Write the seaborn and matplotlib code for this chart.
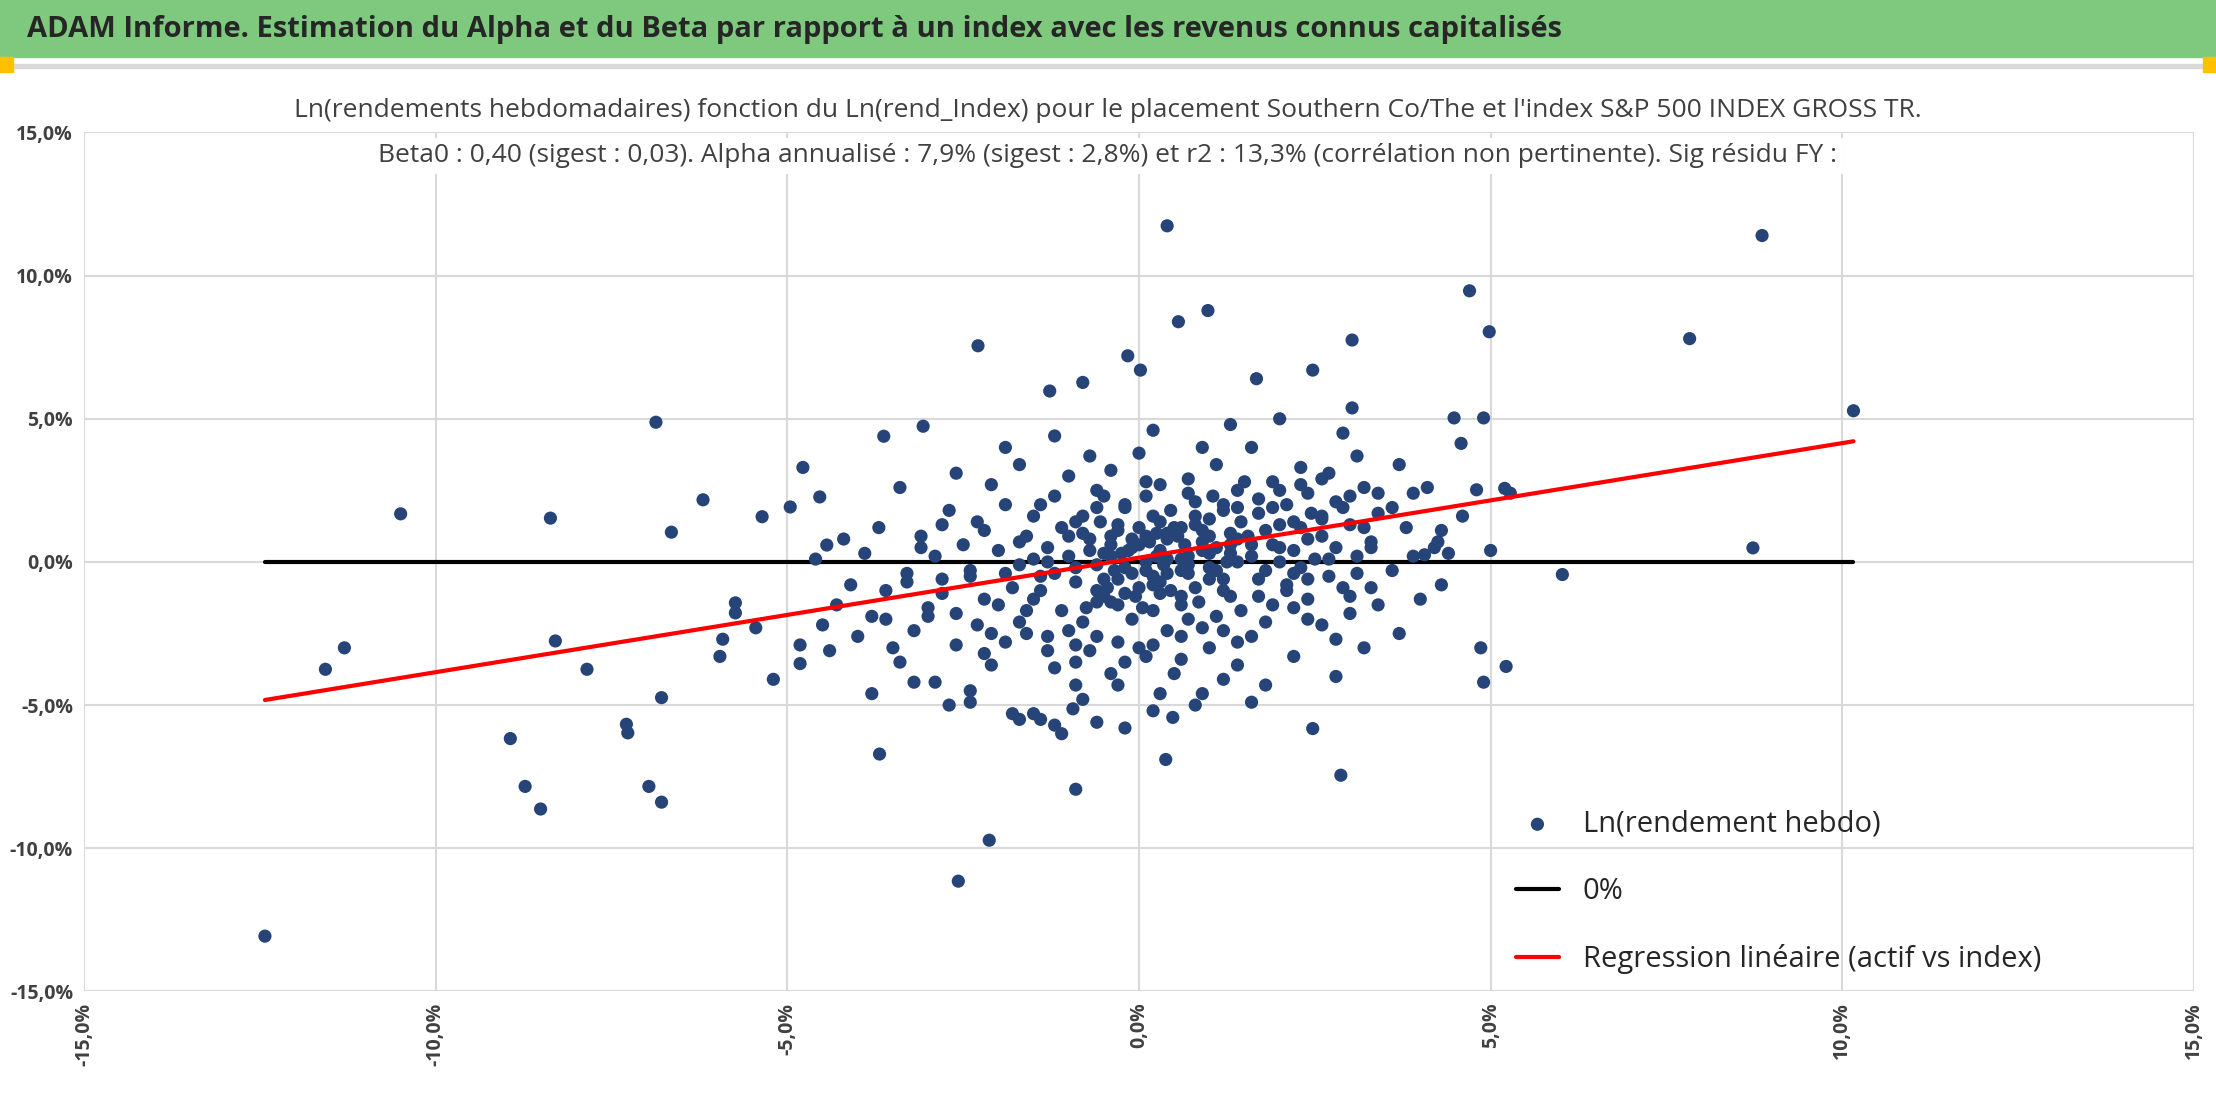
import matplotlib
matplotlib.use("Agg")
import matplotlib.pyplot as plt
import seaborn as sns
import numpy as np
import pandas as pd
from matplotlib.ticker import FuncFormatter, MultipleLocator

title = "ADAM Informe. Estimation du Alpha et du Beta par rapport à un index avec les revenus connus capitalisés"
subtitle1 = "Ln(rendements hebdomadaires) fonction du Ln(rend_Index) pour le placement Southern Co/The et l'index S&P 500 INDEX GROSS TR."
subtitle2 = "Beta0 : 0,40 (sigest : 0,03). Alpha annualisé : 7,9% (sigest : 2,8%) et r2 : 13,3% (corrélation non pertinente). Sig résidu FY :"
legend_labels = ["Ln(rendement hebdo)", "0%", "Regression linéaire (actif vs index)"]

# outliers (x = index %, y = asset %)
outliers = """-12.43,-13.07 -11.57,-3.75 -11.3,-3.0 -10.5,1.68 -8.37,1.53 -8.94,-6.17 -8.73,-7.84 -8.51,-8.63
-8.3,-2.76 -7.85,-3.75 -7.29,-5.67 -7.27,-5.97 -6.97,-7.84 -6.79,-8.39 -6.79,-4.74 -6.87,4.88 -6.65,1.04
-6.2,2.17 -5.96,-3.3 -5.92,-2.7 -5.74,-1.43 -5.74,-1.78 -5.45,-2.3 -5.2,-4.1 -5.36,1.58 -4.96,1.92 -4.78,3.3
-4.82,-3.55 -4.82,-2.9 -4.54,2.27 -4.44,0.59 -3.63,4.39 -3.07,4.74 -3.69,-6.71 -2.29,7.55 -2.57,-11.15
-2.13,-9.72 -0.9,-7.94 0.4,11.74 -0.16,7.2 0.02,6.7 0.56,8.39 0.98,8.78 -0.8,6.27 -1.27,5.97 0.38,-6.9
1.67,6.4 4.7,9.47 4.98,8.04 4.9,5.03 3.03,7.75 3.03,5.38 2.47,6.7 7.83,7.8 8.86,11.4 8.73,0.49 10.16,5.28
6.02,-0.44 4.86,-3.0 4.9,-4.2 5.22,-3.65 5.2,2.57 5.28,2.4 5.0,0.4 4.8,2.52 4.58,4.14 4.48,5.03 2.87,-7.45
2.47,-5.82 3.9,2.4 4.06,0.25 4.25,0.7 0.48,-5.43 -0.94,-5.13 4.3,1.1 4.4,0.3 4.6,1.6 -1.7,-5.5 -1.5,-5.3
-1.2,-5.7 -0.6,-5.6 0.2,-5.2 0.9,-4.6 1.6,-4.9 -2.4,-4.9 -3.2,-4.2"""

cloud = """-4.5,-2.2 -4.3,-1.5 -4.1,-0.8 -3.9,0.3 -3.7,1.2 -4.4,-3.1 -3.8,-4.6 -3.6,-1.0 -4.2,0.8 -4.0,-2.6 -3.8,-1.9 -4.6,0.1
-3.4,-3.5 -3.2,-2.4 -3.0,-1.6 -2.8,-1.1 -3.3,-0.4 -2.9,0.2 -3.1,0.9 -2.7,1.8 -3.4,2.6 -2.6,3.1 -2.9,-4.2 -2.6,-2.9
-3.3,-0.7 -2.8,1.3 -3.0,-1.9 -2.7,-5.0 -3.5,-3.0 -3.1,0.5
-2.4,-4.5 -2.1,-3.6 -1.9,-2.8 -2.3,-2.2 -1.6,-1.7 -2.2,-1.3 -1.8,-0.9 -2.4,-0.5 -1.7,-0.1 -2.0,0.4 -1.6,0.9 -2.3,1.4
-1.9,2.0 -2.1,2.7 -1.7,3.4 -1.8,-5.3 -2.0,-1.5 -1.5,0.1 -2.2,1.1 -1.6,-2.5 -2.4,-0.3 -1.9,4.0 -2.2,-3.2 -1.7,0.7
-1.4,-5.5 -0.9,-4.3 -1.2,-3.7 -0.7,-3.1 -1.3,-2.6 -0.8,-2.1 -1.1,-1.7 -0.6,-1.4 -1.4,-1.0 -0.9,-0.7 -1.2,-0.4
-0.6,-0.1 -1.0,0.2 -1.3,0.5 -0.7,0.8 -1.1,1.2 -0.8,1.6 -1.4,2.0 -0.6,2.5 -1.0,3.0 -0.7,3.7 -1.2,4.4 -0.9,-2.9
-0.5,-1.2 -1.3,0.0 -1.0,0.9 -0.6,1.9 -1.1,-6.0 -0.8,-4.8 -1.4,-0.5 -0.5,0.3 -1.2,2.3
-0.2,-5.8 0.3,-4.6 -0.4,-3.9 0.1,-3.3 -0.3,-2.8 0.4,-2.4 -0.1,-2.0 0.2,-1.7 -0.4,-1.4 0.3,-1.1 0.0,-0.9 -0.3,-0.6
0.4,-0.4 -0.2,-0.2 0.1,0.0 -0.4,0.2 0.3,0.4 0.0,0.6 -0.1,0.8 0.4,1.0 -0.3,1.3 0.2,1.6 -0.2,1.9 0.1,2.3 0.3,2.7
-0.4,3.2 0.0,3.8 0.2,4.6 -0.3,-1.5 0.2,-0.8 0.1,-0.3 0.4,0.1 -0.1,0.5 -0.4,0.9 0.3,1.4 -0.2,2.0 0.0,-3.0 0.35,-0.1
-0.25,0.3 0.15,0.7 -0.45,-0.9 0.45,1.8 -0.05,-1.2 0.25,0.2
0.8,-5.0 1.2,-4.1 0.6,-3.4 1.4,-2.8 0.9,-2.3 1.1,-1.9 0.6,-1.5 1.3,-1.2 0.8,-0.9 1.0,-0.6 0.6,-0.3 1.4,0.0 0.7,0.2
1.1,0.5 0.9,0.7 1.3,1.0 0.6,1.2 1.0,1.5 1.2,1.8 0.8,2.1 1.4,2.5 0.7,2.9 1.1,3.4 0.9,4.0 1.3,4.8 1.2,-1.0 0.7,-0.4
1.0,0.3 1.4,0.8 0.8,1.3 1.2,2.0 0.6,0.1 1.3,0.6 0.9,1.1 0.7,-2.0 1.0,-0.2 0.55,0.9 1.45,1.4
1.8,-4.3 2.2,-3.3 1.6,-2.6 2.4,-2.0 1.9,-1.5 2.1,-1.0 1.7,-0.6 2.3,-0.2 1.6,0.2 2.0,0.5 2.4,0.8 1.8,1.1 2.2,1.4
1.7,1.7 2.1,2.0 2.4,2.4 1.9,2.8 2.3,3.3 1.6,4.0 2.0,5.0 2.2,-0.4 1.9,0.6 2.3,1.2 1.7,2.2 2.0,0.0 1.55,0.9 2.45,1.7
2.8,-4.0 3.2,-3.0 2.6,-2.2 3.4,-1.5 2.9,-0.9 3.1,-0.4 2.7,0.1 3.3,0.5 2.6,0.9 3.0,1.3 3.4,1.7 2.8,2.1 3.2,2.6
2.7,3.1 3.1,3.7 2.9,4.5 3.3,0.7 2.6,1.5 3.0,-1.2 3.4,2.4
3.7,-2.5 4.0,-1.3 3.6,-0.3 4.2,0.5 3.8,1.2 3.6,1.9 4.1,2.6 3.9,0.2 3.7,3.4 4.3,-0.8"""

core = """-0.9,-0.2 -0.7,0.4 -0.5,-0.6 -0.3,1.1 -0.1,-0.4 0.1,0.9 0.3,-0.7 0.5,1.2 0.7,-0.1 0.9,0.4 1.1,-0.3 1.3,0.3
-0.8,1.0 -0.6,-1.0 -0.4,0.6 -0.2,-1.1 0.0,1.2 0.2,-0.5 0.4,0.8 0.6,-1.2 0.8,1.6 1.0,0.9 1.2,-0.6 1.4,1.9
-0.75,-1.6 -0.55,1.4 -0.35,-0.3 -0.15,0.4 0.05,-1.6 0.25,1.0 0.45,-1.0 0.65,0.6 0.85,-1.4 1.05,2.3 1.25,0.0 1.45,-1.7
1.6,0.6 1.8,-0.3 2.0,1.3 2.2,0.4 2.4,-0.6 2.6,1.6 2.8,0.5 3.0,2.3 3.2,1.2 1.7,-1.2 1.9,1.9 2.1,-0.8 2.3,2.7 2.5,0.1
2.7,-0.5 2.9,1.9 3.1,0.2 3.3,-0.9 2.0,2.5 2.6,2.9 3.0,-1.8 2.2,-1.6 1.5,2.8 0.7,2.4 0.1,2.8 -0.5,2.3 -0.9,1.4
-1.5,-1.3 -1.7,-2.1 -1.9,-0.4 -2.1,-2.5 -1.3,-3.1 -1.0,-2.4 -0.6,-2.6 -0.2,-3.5 0.2,-2.9 0.6,-2.6 1.0,-3.0 1.4,-3.6
-2.6,-1.8 -2.8,-0.6 -3.6,-2.0 -1.5,1.6 -2.5,0.6 -0.9,-3.5 -0.3,-4.3 0.5,-3.9 1.2,-2.4 1.8,-2.1 2.4,-1.3 2.8,-2.7"""

def parse(s):
    pts = [p.split(",") for p in s.split()]
    return [float(a) for a, b in pts], [float(b) for a, b in pts]

ox, oy = parse(outliers)
cx, cy = parse(cloud)
kx, ky = parse(core)
index_x = ox + cx + kx
asset_y = oy + cy + ky
df = pd.DataFrame({"x": index_x, "y": asset_y})

beta = 0.40
alpha_w = 0.15
line_x = [min(index_x), max(index_x)]
reg_df = pd.DataFrame({"x": line_x, "y": [alpha_w + beta * v for v in line_x]})
zero_df = pd.DataFrame({"x": line_x, "y": [0.0, 0.0]})

sns.set_theme(style="white")
plt.rcParams['font.family'] = ['Open Sans', 'DejaVu Sans']

fig = plt.figure(figsize=(22.16, 11.04), dpi=100)
fig.patches.append(plt.Rectangle((0, 0.948), 1, 0.052, transform=fig.transFigure, color="#7FC97F", zorder=0))
fig.patches.append(plt.Rectangle((0, 0.938), 1, 0.004, transform=fig.transFigure, color="#D9D9D9", zorder=0))
fig.patches.append(plt.Rectangle((0, 0.935), 0.006, 0.013, transform=fig.transFigure, color="#FFC000", zorder=1))
fig.patches.append(plt.Rectangle((0.994, 0.935), 0.006, 0.013, transform=fig.transFigure, color="#FFC000", zorder=1))
fig.text(0.012, 0.973, title, fontsize=21, fontweight="bold", va="center", ha="left")

ax = fig.add_axes([0.038, 0.102, 0.952, 0.778])
sns.lineplot(data=zero_df, x="x", y="y", color="black", lw=3, ax=ax, label=legend_labels[1], zorder=2)
sns.lineplot(data=reg_df, x="x", y="y", color="#FF0000", lw=3, ax=ax, label=legend_labels[2], zorder=4)
sns.scatterplot(data=df, x="x", y="y", color="#264478", s=90, edgecolor="none", ax=ax,
                label=legend_labels[0], zorder=3)
ax.set_xlim(-15, 15)
ax.set_ylim(-15, 15)
ax.xaxis.set_major_locator(MultipleLocator(5))
ax.yaxis.set_major_locator(MultipleLocator(5))
fmt = FuncFormatter(lambda v, p: f"{v:.1f}%".replace(".", ","))
ax.xaxis.set_major_formatter(fmt)
ax.yaxis.set_major_formatter(fmt)
ax.grid(True, color="#D9D9D9", lw=1.5)
for s in ax.spines.values():
    s.set_visible(False)
ax.set_xlabel("")
ax.set_ylabel("")
ax.tick_params(axis="x", labelrotation=90, labelsize=14, colors="#404040", pad=2)
ax.tick_params(axis="y", labelsize=14, colors="#404040", pad=2)
for t in ax.get_yticklabels() + ax.get_xticklabels():
    t.set_fontweight("bold")

fig.text(0.5, 0.900, subtitle1, fontsize=19, ha="center", va="center", color="#404040",
         bbox=dict(facecolor="white", edgecolor="none", pad=4))
fig.text(0.5, 0.859, subtitle2, fontsize=19, ha="center", va="center", color="#404040",
         bbox=dict(facecolor="white", edgecolor="none", pad=4))

h, l = ax.get_legend_handles_labels()
order = [l.index(x) for x in legend_labels]
ax.legend([h[i] for i in order], [l[i] for i in order], loc="lower right", bbox_to_anchor=(0.94, -0.01),
          frameon=False, fontsize=21, labelspacing=1.3, handlelength=1.5, markerscale=1.0)

fig.savefig("out.png", dpi=100)
